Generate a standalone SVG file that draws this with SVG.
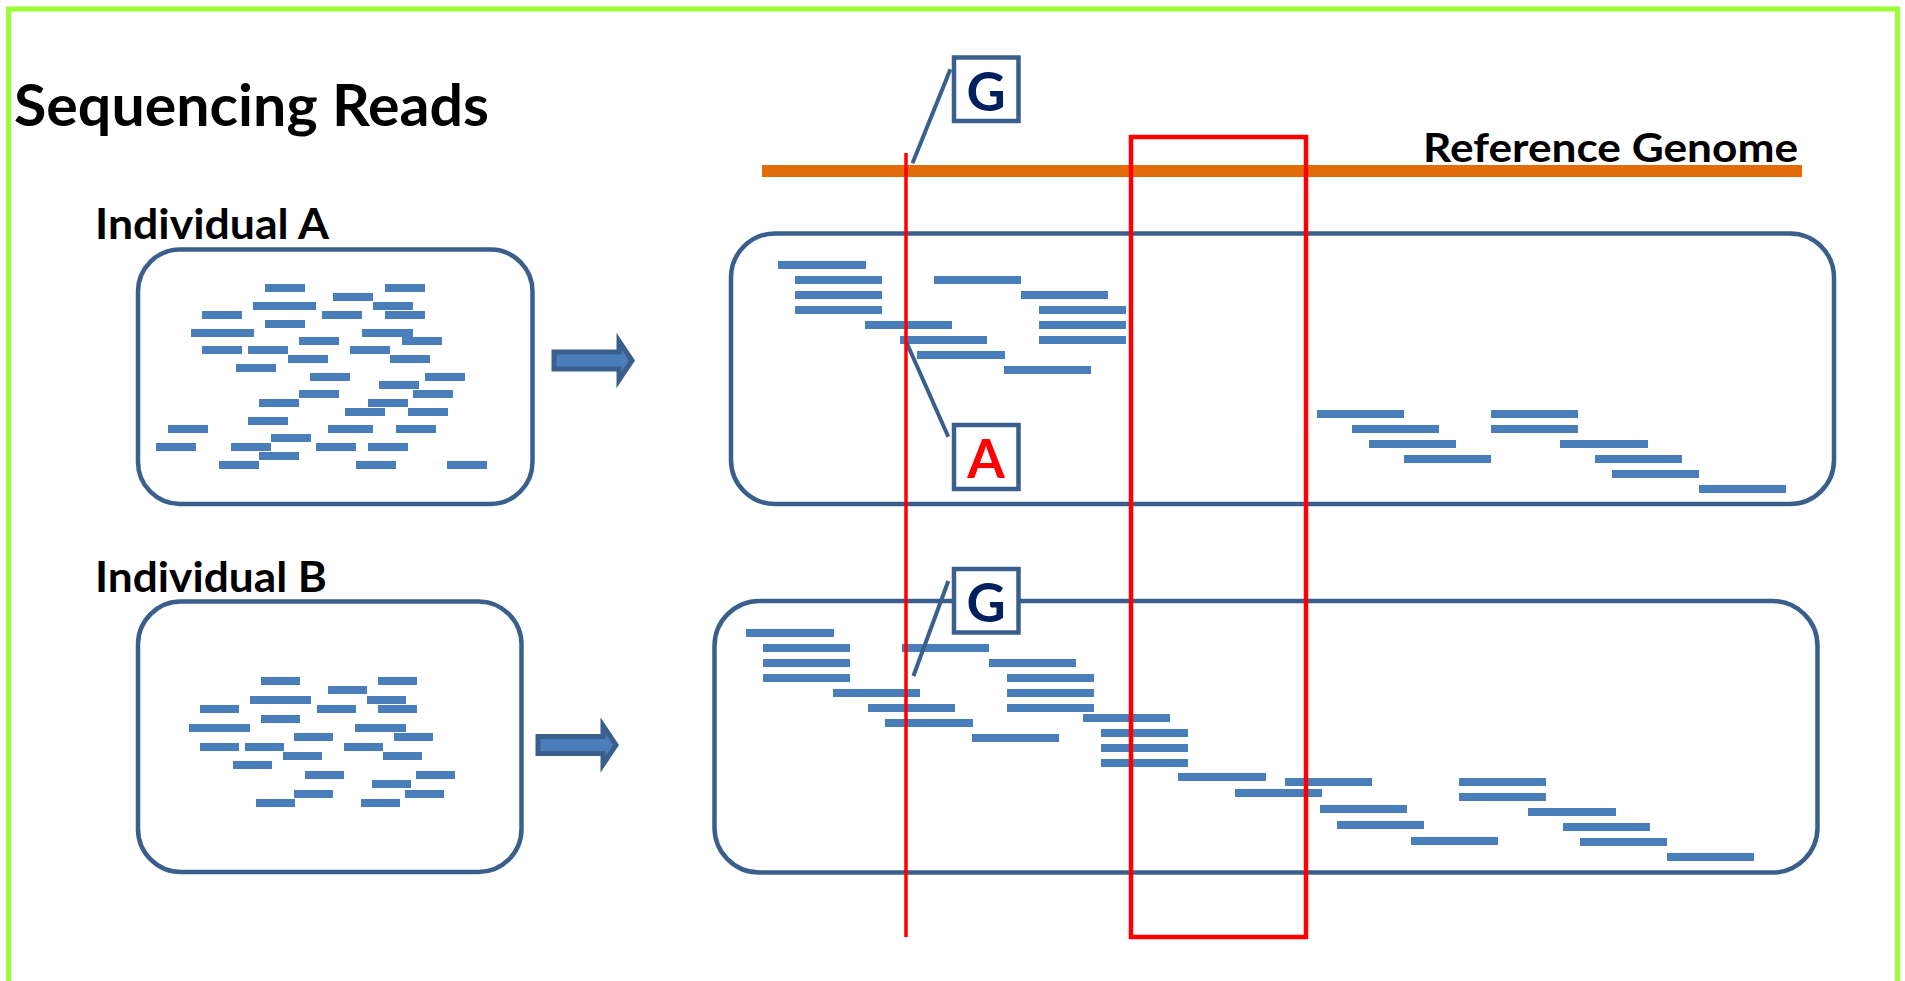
<svg xmlns="http://www.w3.org/2000/svg" width="1905" height="981" viewBox="0 0 1905 981">
<style>
.lbl{font-family:Lato,"Liberation Sans",sans-serif;font-weight:bold;fill:#000}
.box{fill:#fff;stroke:#3B5F8D;stroke-width:4.5}
.r{fill:#4A7EBB}
.lead{stroke:#3B5F8D;stroke-width:4;fill:none}
.cb{fill:#fff;stroke:#3B5F8D;stroke-width:4.5}
.arr{fill:#4A7EBB;stroke:#3B5F8D;stroke-width:5;stroke-linejoin:miter}
.red{stroke:#FF0000;fill:none}
</style>
<rect width="1905" height="981" fill="#fff"/>
<rect x="8.5" y="9" width="1889" height="1010" fill="none" stroke="#99FF33" stroke-width="5"/>

<text class="lbl" x="14" y="126" font-size="57" textLength="475" lengthAdjust="spacingAndGlyphs">Sequencing Reads</text>
<text class="lbl" x="95" y="239" font-size="42" textLength="234" lengthAdjust="spacingAndGlyphs">Individual A</text>
<text class="lbl" x="95" y="592" font-size="42" textLength="232" lengthAdjust="spacingAndGlyphs">Individual B</text>

<g id="reference-genome">
<rect x="762" y="165" width="1040" height="12" fill="#E36C0A"/>
<text class="lbl" x="1423" y="162" font-size="41" textLength="375" lengthAdjust="spacingAndGlyphs">Reference Genome</text>
</g>

<g id="reads-a">
<rect class="box" x="138" y="249.5" width="394.5" height="254.5" rx="42"/>
<g class="r">
<rect x="265" y="284" width="40" height="8"/><rect x="385" y="284" width="40" height="8"/><rect x="333" y="293" width="40" height="8"/>
<rect x="253" y="302" width="63" height="8"/><rect x="373" y="302" width="40" height="8"/><rect x="202" y="311" width="40" height="8"/>
<rect x="322" y="311" width="40" height="8"/><rect x="385" y="311" width="40" height="8"/><rect x="265" y="320" width="40" height="8"/>
<rect x="191" y="329" width="63" height="8"/><rect x="362" y="329" width="51" height="8"/><rect x="299" y="337" width="40" height="8"/>
<rect x="402" y="337" width="40" height="8"/><rect x="202" y="346" width="40" height="8"/><rect x="248" y="346" width="40" height="8"/>
<rect x="350" y="346" width="40" height="8"/><rect x="288" y="355" width="40" height="8"/><rect x="390" y="355" width="40" height="8"/>
<rect x="236" y="364" width="40" height="8"/><rect x="310" y="373" width="40" height="8"/><rect x="425" y="373" width="40" height="8"/>
<rect x="379" y="381" width="40" height="8"/><rect x="299" y="390" width="40" height="8"/><rect x="413" y="390" width="40" height="8"/>
<rect x="259" y="399" width="40" height="8"/><rect x="368" y="399" width="40" height="8"/><rect x="345" y="408" width="40" height="8"/>
<rect x="408" y="408" width="40" height="8"/><rect x="248" y="417" width="40" height="8"/><rect x="168" y="425" width="40" height="8"/>
<rect x="328" y="425" width="45" height="8"/><rect x="396" y="425" width="40" height="8"/><rect x="271" y="434" width="40" height="8"/>
<rect x="156" y="443" width="40" height="8"/><rect x="231" y="443" width="40" height="8"/><rect x="316" y="443" width="40" height="8"/>
<rect x="368" y="443" width="40" height="8"/><rect x="259" y="452" width="40" height="8"/><rect x="219" y="461" width="40" height="8"/>
<rect x="356" y="461" width="40" height="8"/><rect x="447" y="461" width="40" height="8"/>
</g>
</g>

<g id="reads-b">
<rect class="box" x="138" y="601.5" width="383.5" height="270.5" rx="43"/>
<g class="r">
<rect x="261" y="677" width="39" height="8"/><rect x="378" y="677" width="39" height="8"/><rect x="328" y="686" width="39" height="8"/>
<rect x="250" y="696" width="61" height="8"/><rect x="367" y="696" width="39" height="8"/><rect x="200" y="705" width="39" height="8"/>
<rect x="317" y="705" width="39" height="8"/><rect x="378" y="705" width="39" height="8"/><rect x="261" y="715" width="39" height="8"/>
<rect x="189" y="724" width="61" height="8"/><rect x="355" y="724" width="51" height="8"/><rect x="294" y="733" width="39" height="8"/>
<rect x="394" y="733" width="39" height="8"/><rect x="200" y="743" width="39" height="8"/><rect x="245" y="743" width="39" height="8"/>
<rect x="344" y="743" width="39" height="8"/><rect x="283" y="752" width="39" height="8"/><rect x="383" y="752" width="39" height="8"/>
<rect x="233" y="761" width="39" height="8"/><rect x="305" y="771" width="39" height="8"/><rect x="416" y="771" width="39" height="8"/>
<rect x="372" y="780" width="39" height="8"/><rect x="294" y="790" width="39" height="8"/><rect x="405" y="790" width="39" height="8"/>
<rect x="256" y="799" width="39" height="8"/><rect x="361" y="799" width="39" height="8"/>
</g>
</g>

<g id="aligned-a">
<rect class="box" x="731" y="233.5" width="1103" height="270.5" rx="44"/>
<g class="r">
<rect x="778" y="261" width="88" height="8"/><rect x="795" y="276" width="87" height="8"/><rect x="934" y="276" width="87" height="8"/>
<rect x="795" y="291" width="87" height="8"/><rect x="1021" y="291" width="87" height="8"/><rect x="795" y="306" width="87" height="8"/>
<rect x="1039" y="306" width="87" height="8"/><rect x="865" y="321" width="87" height="8"/><rect x="1039" y="321" width="87" height="8"/>
<rect x="900" y="336" width="87" height="8"/><rect x="1039" y="336" width="87" height="8"/><rect x="917" y="351" width="88" height="8"/>
<rect x="1004" y="366" width="87" height="8"/>
<rect x="1317" y="410" width="87" height="8"/><rect x="1491" y="410" width="87" height="8"/><rect x="1352" y="425" width="87" height="8"/>
<rect x="1491" y="425" width="87" height="8"/><rect x="1369" y="440" width="87" height="8"/><rect x="1560" y="440" width="88" height="8"/>
<rect x="1404" y="455" width="87" height="8"/><rect x="1595" y="455" width="87" height="8"/><rect x="1612" y="470" width="87" height="8"/>
<rect x="1699" y="485" width="87" height="8"/>
</g>
</g>

<g id="aligned-b">
<rect class="box" x="714.5" y="601" width="1103" height="271.5" rx="45"/>
<g class="r">
<rect x="746" y="629" width="88" height="8"/><rect x="763" y="644" width="87" height="8"/><rect x="902" y="644" width="87" height="8"/>
<rect x="763" y="659" width="87" height="8"/><rect x="989" y="659" width="87" height="8"/><rect x="763" y="674" width="87" height="8"/>
<rect x="1007" y="674" width="87" height="8"/><rect x="833" y="689" width="87" height="8"/><rect x="1007" y="689" width="87" height="8"/>
<rect x="868" y="704" width="87" height="8"/><rect x="1007" y="704" width="87" height="8"/><rect x="885" y="719" width="88" height="8"/>
<rect x="1083" y="714" width="87" height="8"/><rect x="972" y="734" width="87" height="8"/><rect x="1101" y="729" width="87" height="8"/>
<rect x="1101" y="744" width="87" height="8"/><rect x="1101" y="759" width="87" height="8"/><rect x="1178" y="773" width="88" height="8"/>
<rect x="1285" y="778" width="87" height="8"/><rect x="1235" y="789" width="87" height="8"/><rect x="1320" y="805" width="87" height="8"/>
<rect x="1337" y="821" width="87" height="8"/><rect x="1411" y="837" width="87" height="8"/><rect x="1459" y="778" width="87" height="8"/>
<rect x="1459" y="793" width="87" height="8"/><rect x="1528" y="808" width="88" height="8"/><rect x="1563" y="823" width="87" height="8"/>
<rect x="1580" y="838" width="87" height="8"/><rect x="1667" y="853" width="87" height="8"/>
</g>
</g>

<g id="connectors">
<path class="arr" d="M554,352 H619 V341 L632,360.5 L619,380 V369 H554 Z"/>
<path class="arr" d="M538,736.5 H603 V725.5 L616,745 L603,764.5 V753.5 H538 Z"/>
<line class="lead" x1="950.4" y1="69.3" x2="912.5" y2="163.3"/>
<line class="lead" x1="948.3" y1="436.7" x2="906.2" y2="341.7"/>
<line class="lead" x1="948.3" y1="581" x2="913.4" y2="676"/>
</g>

<g id="snp-marker">
<line class="red" x1="906" y1="153" x2="906" y2="937" stroke-width="3.5"/>
</g>
<g id="region-window">
<rect class="red" x="1131" y="137" width="175" height="800" stroke-width="4.5"/>
</g>

<g id="callout-g-ref">
<rect class="cb" x="954" y="57.5" width="64.5" height="63.5"/>
<text class="lbl" x="986" y="111" font-size="54" text-anchor="middle" style="fill:#002060">G</text>
</g>
<g id="callout-a">
<rect class="cb" x="954" y="425" width="64.5" height="64"/>
<text class="lbl" x="986" y="478" font-size="54" text-anchor="middle" style="fill:#FF0000">A</text>
</g>
<g id="callout-g-b">
<rect class="cb" x="954" y="569" width="64.5" height="63.5"/>
<text class="lbl" x="986" y="622" font-size="54" text-anchor="middle" style="fill:#002060">G</text>
</g>
</svg>
